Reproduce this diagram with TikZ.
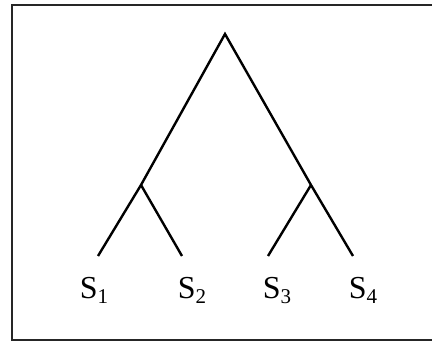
\documentclass[tikz,border=0pt]{standalone}
\usepackage{fontspec}
\setmainfont{Liberation Serif}
\usepackage{tikz}
\usetikzlibrary{positioning}
\newcommand{\sub}[1]{\raisebox{-5pt}{\fontsize{21}{22}\selectfont #1}}

\begin{document}
\begin{tikzpicture}[
  x=1pt, y=-1pt,
  branch/.style={line width=2.4pt, color=black, line join=miter},
  frame/.style={line width=1.8pt, draw=black!85},
  leaf/.style={anchor=base, inner sep=0pt, font=\fontsize{32}{36}\selectfont},
]
  \useasboundingbox (0,0) rectangle (432,342);
  \draw[frame] (440,5) -- (12,5) -- (12,340) -- (440,340);

  % Tree joints
  \coordinate (root) at (225,34);
  \coordinate (left) at (141,185);
  \coordinate (right) at (311,185);

  % Leaf ends
  \coordinate (e1) at (98,256);
  \coordinate (e2) at (182,256);
  \coordinate (e3) at (268,256);
  \coordinate (e4) at (353,256);

  % Labels
  \node[leaf] (s1) at (94,299) {S\sub{1}};
  \node[leaf] (s2) at (192,299) {S\sub{2}};
  \node[leaf] (s3) at (277,299) {S\sub{3}};
  \node[leaf] (s4) at (363,299) {S\sub{4}};

  % Branches
  \draw[branch] (e1) -- (left) -- (root) -- (right) -- (e4);
  \draw[branch] (left) -- (e2);
  \draw[branch] (right) -- (e3);
\end{tikzpicture}
\end{document}
